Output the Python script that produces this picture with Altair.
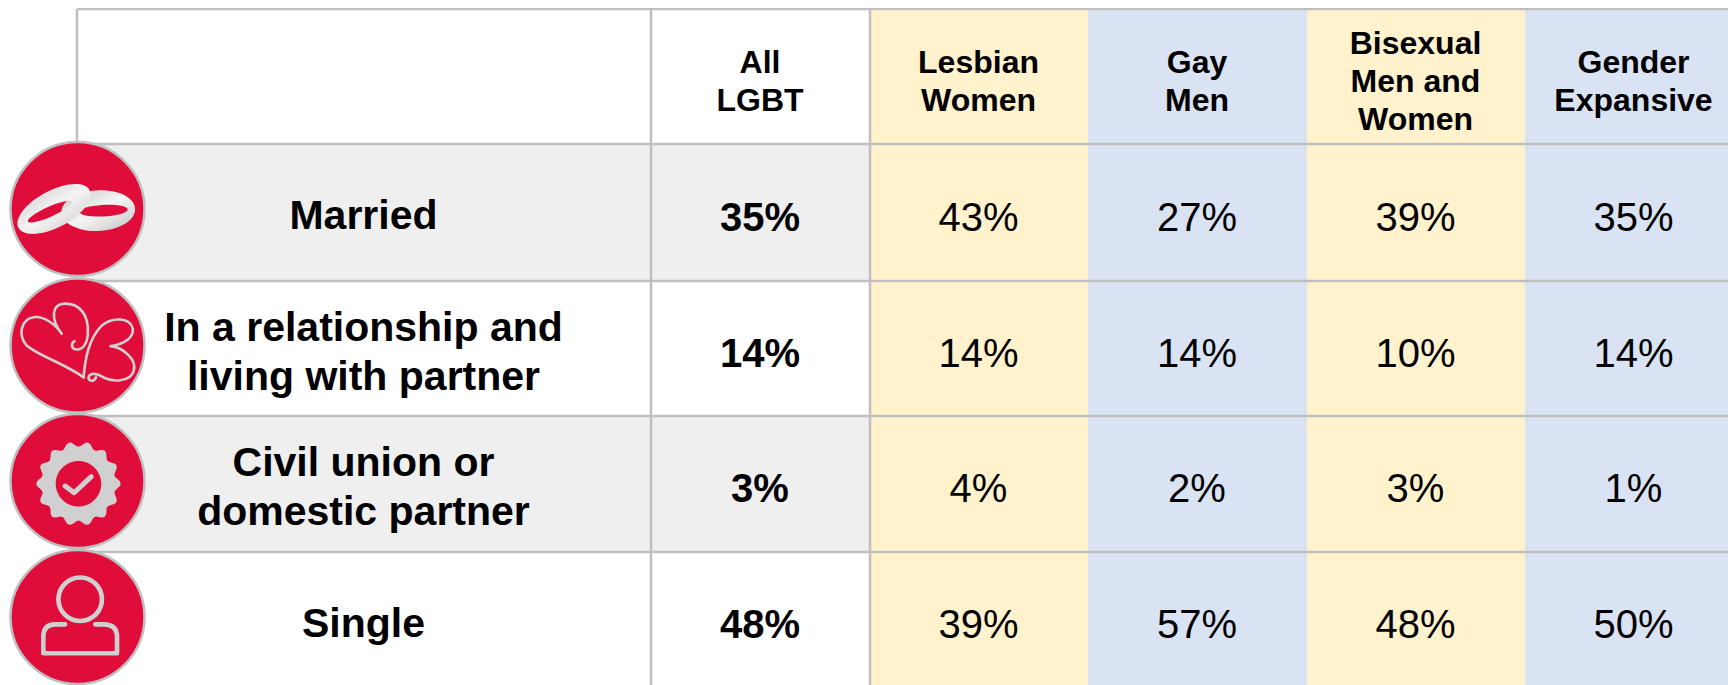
import math
import altair as alt
import pandas as pd

# ---- table content
row_labels = ["Married", "In a relationship and\nliving with partner",
              "Civil union or\ndomestic partner", "Single"]
col_labels = ["All\nLGBT", "Lesbian\nWomen", "Gay\nMen", "Bisexual\nMen and\nWomen", "Gender\nExpansive"]
all_lgbt = ["35%", "14%", "3%", "48%"]
lesbian = ["43%", "14%", "4%", "39%"]
gay = ["27%", "14%", "2%", "57%"]
bisexual = ["39%", "10%", "3%", "48%"]
gender_exp = ["35%", "14%", "1%", "50%"]
series = [all_lgbt, lesbian, gay, bisexual, gender_exp]

# ---- layout (page pixels)
W, H = 1728, 685
M = 8
col_edges = [77, 651, 870, 1088, 1307, 1525, 1743]
row_edges = [9, 144, 281, 416, 552, 688]
row_mid = [209, 345.5, 481, 617]
ICON_X = 77.5
R = 67
FONT = "Liberation Sans"
LINE = "#bfbfbf"
RED = "#e00d3b"
GRAY = "#efefef"
YELLOW = "#fff2cc"
BLUE = "#dae3f3"
ICON = "#d0d0d0"

X = alt.X("x:Q", scale=alt.Scale(domain=[M, W], range=[0, W - M]), axis=None)
Y = alt.Y("y:Q", scale=alt.Scale(domain=[M, H], range=[0, H - M]), axis=None)

# fills
fills = []
for r in range(4):
    if r % 2 == 0:
        fills.append(dict(x=col_edges[0], x2=col_edges[2], y=row_edges[r + 1], y2=row_edges[r + 2], c=GRAY))
for c in range(2, 6):
    fills.append(dict(x=col_edges[c], x2=col_edges[c + 1], y=row_edges[0], y2=row_edges[-1],
                      c=YELLOW if c % 2 == 0 else BLUE))
rect = alt.Chart(pd.DataFrame(fills)).mark_rect().encode(
    x=X, x2="x2:Q", y=Y, y2="y2:Q", color=alt.Color("c:N", scale=None))

# grid lines
hl = [dict(x=col_edges[0], x2=col_edges[-1], y=y) for y in row_edges[:-1]]
hrules = alt.Chart(pd.DataFrame(hl)).mark_rule(color=LINE, strokeWidth=2.5).encode(x=X, x2="x2:Q", y=Y)
vl = [dict(x=col_edges[0], y=row_edges[0], y2=row_edges[1])] + \
     [dict(x=x, y=row_edges[0], y2=row_edges[-1]) for x in col_edges[1:3]]
vrules = alt.Chart(pd.DataFrame(vl)).mark_rule(color=LINE, strokeWidth=2.5).encode(x=X, y=Y, y2="y2:Q")

# red discs
discs = alt.Chart(pd.DataFrame({"x": [ICON_X] * 4, "y": row_mid})).mark_point(
    filled=True, fill=RED, stroke=LINE, strokeWidth=2.5, opacity=1, fillOpacity=1, strokeOpacity=1
).encode(x=X, y=Y, size=alt.value((2 * R) ** 2))


# ---- icon glyphs, drawn in the 3x crop frame around each disc
def u(v):
    return f"{v / 200:.4f}"


def pth(cmds):
    out = []
    for cmd in cmds:
        out.append(cmd[0] + " ".join(u((v - 217) if i % 2 == 0 else (v - 210)) for i, v in enumerate(cmd[1:])))
    return " ".join(out)


def ellipse(cx, cy, a, b, rot, sweep):
    t = math.radians(rot)
    dx, dy = a * math.cos(t), a * math.sin(t)
    x1, y1, x2, y2 = cx - dx, cy - dy, cx + dx, cy + dy
    return (f"M{u(x1 - 217)} {u(y1 - 210)} A{u(a)} {u(b)} {rot} 1 {sweep} {u(x2 - 217)} {u(y2 - 210)} "
            f"A{u(a)} {u(b)} {rot} 1 {sweep} {u(x1 - 217)} {u(y1 - 210)} Z")


ring2 = ellipse(279, 215, 110, 60, -3, 1) + " " + ellipse(295, 215, 72, 17, -3, 0)
ring1 = ellipse(147, 210, 120, 55, -28, 1) + " " + ellipse(135, 218, 72, 15, -24, 0)

heart1 = pth([("M", 235, 305), ("C", 180, 265, 100, 240, 65, 210), ("C", 40, 180, 45, 130, 90, 125),
              ("C", 115, 122, 150, 145, 170, 175), ("C", 135, 130, 140, 85, 180, 85),
              ("C", 225, 85, 250, 120, 248, 170), ("C", 248, 200, 235, 222, 215, 222),
              ("C", 200, 222, 195, 205, 208, 197)])
heart2 = pth([("M", 235, 305), ("C", 240, 250, 250, 190, 290, 150), ("C", 320, 125, 375, 125, 382, 160),
              ("C", 385, 185, 360, 205, 315, 212), ("C", 350, 215, 395, 250, 385, 285),
              ("C", 375, 320, 320, 322, 285, 300), ("C", 265, 290, 250, 295, 250, 308),
              ("C", 252, 318, 268, 318, 272, 305)])

n_scallop = 14
pts = []
for i in range(n_scallop * 8):
    a = 2 * math.pi * i / (n_scallop * 8)
    rad = 118 + 8 * math.cos(n_scallop * a)
    pts.append((220 + rad * math.cos(a), 218 + rad * math.sin(a)))
badge = pth([("M", *pts[0])] + [("L", *p) for p in pts[1:]]) + " Z"
hole = ellipse(220, 218, 68, 68, 0, 0)
badge_full = badge + " " + hole
check = pth([("M", 180, 225), ("L", 207, 245), ("L", 258, 197)])

head = ellipse(225, 157, 65, 65, 0, 1)
body = pth([("M", 180, 232), ("L", 150, 232), ("Q", 115, 232, 115, 270), ("L", 115, 318),
            ("L", 335, 318), ("L", 335, 270), ("Q", 335, 232, 295, 232), ("L", 270, 232)])

SZ = (2 * R) ** 2


def glyph(path, row, fill=None, stroke=None, sw=0):
    kw = dict(shape=path, opacity=1)
    if fill is not None:
        kw.update(filled=True, fill=fill, fillOpacity=1, strokeWidth=0)
    else:
        kw.update(filled=False, fill="transparent", fillOpacity=0, stroke=stroke, strokeWidth=sw,
                  strokeOpacity=1, strokeCap="round", strokeJoin="round")
    return alt.Chart(pd.DataFrame({"x": [ICON_X], "y": [row_mid[row]]})).mark_point(**kw).encode(
        x=X, y=Y, size=alt.value(SZ))


ring_fill = alt.Gradient(gradient="linear", x1=0, y1=0, x2=1, y2=1,
                         stops=[alt.GradientStop(color="#c8c8c8", offset=0),
                                alt.GradientStop(color="#f4f4f4", offset=0.5),
                                alt.GradientStop(color="#c4c4c4", offset=1)])
icons = [
    glyph(ring2, 0, fill=ring_fill),
    glyph(ring1, 0, fill=ring_fill),
    glyph(heart1, 1, stroke=ICON, sw=2.6),
    glyph(heart2, 1, stroke=ICON, sw=2.6),
    glyph(badge_full, 2, fill=ICON),
    glyph(check, 2, stroke=ICON, sw=5),
    glyph(head, 3, stroke=ICON, sw=4.6),
    glyph(body, 3, stroke=ICON, sw=4.6),
]


# ---- text
def col_center(c):
    return (col_edges[c] + col_edges[c + 1]) / 2


def row_center(r):
    return (row_edges[r + 1] + row_edges[r + 2]) / 2


def first_line_y(center, text, lh):
    return center - (text.count("\n")) * lh / 2


HDR_LH, LAB_LH = 38, 49
hdr = pd.DataFrame({"x": [col_center(c + 1) - 0.5 for c in range(5)],
                    "y": [first_line_y(81.5, t, HDR_LH) for t in col_labels], "t": col_labels})
hdr_t = alt.Chart(hdr).mark_text(font=FONT, fontSize=32, fontWeight="bold", lineBreak="\n", lineHeight=HDR_LH,
                                 color="black", align="center", baseline="middle").encode(x=X, y=Y, text="t:N")

lab = pd.DataFrame({"x": [col_center(0) - 0.5] * 4,
                    "y": [first_line_y(row_center(r) + 4.5, row_labels[r], LAB_LH) for r in range(4)],
                    "t": row_labels})
lab_t = alt.Chart(lab).mark_text(font=FONT, fontSize=41, fontWeight="bold", lineBreak="\n", lineHeight=LAB_LH,
                                 color="black", align="center", baseline="middle").encode(x=X, y=Y, text="t:N")

vals = []
for c, s in enumerate(series):
    for r, v in enumerate(s):
        vals.append(dict(x=col_center(c + 1) - 0.5, y=row_center(r) + 6, t=v, c=c))
vals = pd.DataFrame(vals)
bold_t = alt.Chart(vals[vals.c == 0]).mark_text(font=FONT, fontSize=40, fontWeight="bold", color="black",
                                                align="center", baseline="middle").encode(x=X, y=Y, text="t:N")
reg_t = alt.Chart(vals[vals.c > 0]).mark_text(font=FONT, fontSize=40, color="black",
                                              align="center", baseline="middle").encode(x=X, y=Y, text="t:N")

chart = alt.layer(rect, hrules, vrules, discs, *icons, hdr_t, lab_t, bold_t, reg_t).properties(
    width=W - M, height=H - M, padding=0, autosize=alt.AutoSizeParams(type="none"),
    background="white"
).configure_view(stroke=None)

chart.save("out.html", embed_options={"renderer": "svg", "actions": False})
